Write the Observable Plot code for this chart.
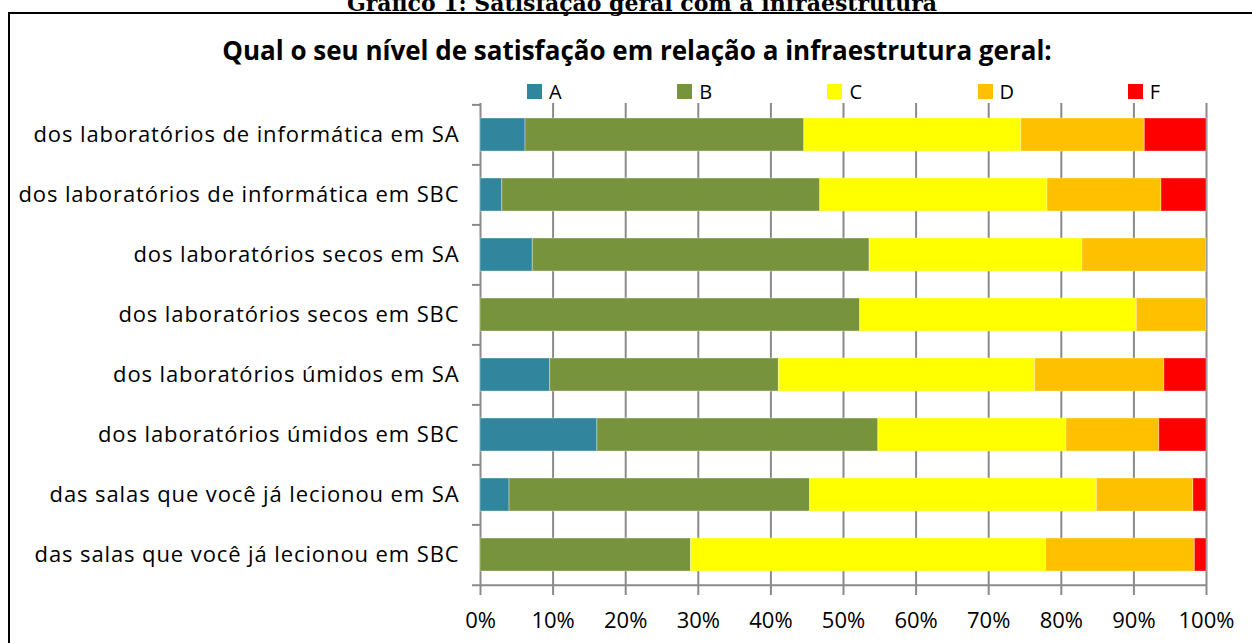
<!DOCTYPE html>
<html>
<head>
<meta charset="utf-8">
<script src="https://cdn.jsdelivr.net/npm/d3@7"></script>
<script src="https://cdn.jsdelivr.net/npm/@observablehq/plot@0.6"></script>
<style>
  html, body { margin: 0; padding: 0; background: #fff; }
  #wrap { position: relative; width: 1252px; height: 643px; overflow: hidden; font-family: "Open Sans", sans-serif; }
  #doctitle { position: absolute; left: 0; width: 1284px; top: -8px; line-height: 22px; text-align: center; font-family: "DejaVu Serif", serif; font-weight: bold; font-size: 22px; color: #000; white-space: nowrap; }
  #box { position: absolute; left: 8px; top: 12px; width: 1250px; height: 660px; border: 2px solid #000; box-sizing: border-box; }
  #title { position: absolute; left: 0; width: 1274px; top: 35px; line-height: 30px; text-align: center; font-weight: bold; font-size: 26px; color: #000; white-space: nowrap; }
  .leg { position: absolute; top: 79px; height: 24px; display: flex; align-items: center; font-size: 20px; color: #000; }
  .leg span.sw { display: inline-block; width: 15px; height: 15px; margin-right: 7px; }
  #chart { position: absolute; left: 0; top: 0; }
</style>
</head>
<body>
<div id="wrap">
  <div id="doctitle">Gráfico 1: Satisfação geral com a infraestrutura</div>
  <div id="box"></div>
  <div id="title">Qual o seu nível de satisfação em relação a infraestrutura geral:</div>
  <div id="legend"></div>
  <div id="chart"></div>
</div>
<script>
const categories = [
  "dos laboratórios de informática em SA",
  "dos laboratórios de informática em SBC",
  "dos laboratórios secos em SA",
  "dos laboratórios secos em SBC",
  "dos laboratórios úmidos em SA",
  "dos laboratórios úmidos em SBC",
  "das salas que você já lecionou em SA",
  "das salas que você já lecionou em SBC"
];
const seriesNames = ["A", "B", "C", "D", "F"];
const seriesColors = ["#31859C", "#77933C", "#FFFF00", "#FFC000", "#FF0000"];
// percentages per category (top to bottom)
const valuesA = [6.2, 3.0, 7.2, 0.0, 9.6, 16.1, 4.0, 0.0];
const valuesB = [38.4, 43.8, 46.4, 52.3, 31.5, 38.7, 41.4, 29.0];
const valuesC = [29.9, 31.3, 29.3, 38.1, 35.3, 25.9, 39.5, 48.9];
const valuesD = [17.0, 15.7, 17.1, 9.6, 17.8, 12.8, 13.3, 20.5];
const valuesF = [8.5, 6.2, 0.0, 0.0, 5.8, 6.5, 1.8, 1.6];
const xTicks = [0, 0.1, 0.2, 0.3, 0.4, 0.5, 0.6, 0.7, 0.8, 0.9, 1.0];

const seriesValues = [valuesA, valuesB, valuesC, valuesD, valuesF];
const rows = [];
categories.forEach((c, i) => {
  const total = seriesValues.reduce((s, arr) => s + arr[i], 0);
  seriesNames.forEach((s, j) => {
    rows.push({category: c, series: s, value: seriesValues[j][i] / total});
  });
});

// legend
const legend = document.getElementById("legend");
seriesNames.forEach((s, j) => {
  const d = document.createElement("div");
  d.className = "leg";
  d.style.left = (527 + j * 150.2) + "px";
  d.innerHTML = `<span class="sw" style="background:${seriesColors[j]}"></span>${s}`;
  legend.appendChild(d);
});

const W = 1252, H = 643, mt = 103, mb = 58, ml = 480, mr = 46;
const step = (H - mt - mb) / categories.length;
const gridColor = "#8a8a8a";

const chart = Plot.plot({
  width: W,
  height: H,
  marginTop: mt,
  marginBottom: mb,
  marginLeft: ml,
  marginRight: mr,
  style: {fontFamily: "'Open Sans', sans-serif", background: "transparent", color: "#000"},
  x: {domain: [0, 1]},
  y: {domain: categories, paddingInner: 0.45, paddingOuter: 0.225},
  color: {domain: seriesNames, range: seriesColors},
  marks: [
    Plot.gridX(xTicks, {stroke: gridColor, strokeOpacity: 1, strokeWidth: 2}),
    Plot.barX(rows, Plot.stackX({x: "value", y: "category", fill: "series", order: seriesNames, stroke: "#ffffff", strokeOpacity: 0.35, strokeWidth: 1})),
    Plot.ruleY(categories, {y: d => d, x1: -0.011, x2: 0, dy: -step / 2, stroke: gridColor, strokeWidth: 2}),
    Plot.ruleY(categories.slice(-1), {y: d => d, x1: -0.011, x2: 1, dy: step / 2, stroke: gridColor, strokeWidth: 2}),
    Plot.axisX(xTicks, {anchor: "bottom", tickSize: 10, tickPadding: 17, tickFormat: d3.format(".0%"), fontSize: 22, stroke: gridColor, strokeWidth: 2, label: null}),
    Plot.axisY({tickSize: 0, tickPadding: 21, fontSize: 22, label: null})
  ]
});
d3.select(chart).selectAll('g[aria-label="y-axis tick label"] text').style("letter-spacing", "0.9px");
document.getElementById("chart").appendChild(chart);
</script>
</body>
</html>
